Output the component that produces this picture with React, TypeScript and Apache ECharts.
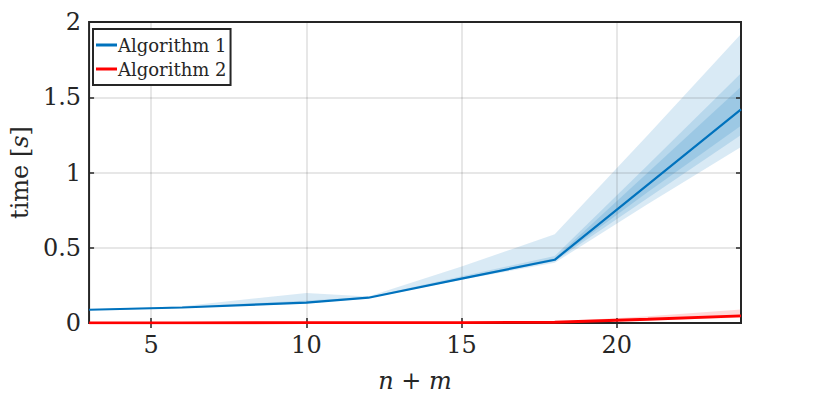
import React, { useEffect, useRef } from "react";
import * as echarts from "echarts";

const xValues = [3, 6, 10, 12, 15, 18, 21, 24];
const algo1 = [0.088, 0.103, 0.135, 0.168, 0.295, 0.42, 0.92, 1.42];
const algo1OuterLo = [0.085, 0.099, 0.13, 0.164, 0.288, 0.4, 0.79, 1.17];
const algo1OuterHi = [0.092, 0.112, 0.2, 0.176, 0.375, 0.59, 1.25, 1.92];
const algo1MidLo = [0.086, 0.101, 0.132, 0.166, 0.291, 0.41, 0.83, 1.25];
const algo1MidHi = [0.09, 0.106, 0.15, 0.172, 0.31, 0.445, 1.05, 1.66];
const algo1InLo = [0.087, 0.102, 0.133, 0.167, 0.293, 0.415, 0.87, 1.31];
const algo1InHi = [0.089, 0.104, 0.14, 0.17, 0.3, 0.43, 1.0, 1.57];

const algo2 = [0.001, 0.001, 0.002, 0.002, 0.003, 0.005, 0.025, 0.048];
const algo2Lo = [0.0005, 0.0005, 0.001, 0.001, 0.002, 0.004, 0.018, 0.035];
const algo2Hi = [0.002, 0.002, 0.003, 0.003, 0.004, 0.008, 0.045, 0.09];

const xTicks = [5, 10, 15, 20];
const yTicks = [0, 0.5, 1, 1.5, 2];

const BLUE = "#0072BD";
const RED = "#FF0000";
const INK = "#262626";
const GRID = "rgba(38,38,38,0.15)";
const FONT = "DejaVu Serif";

function pairs(ys: number[]) {
  return xValues.map((x, i) => [x, ys[i]]);
}

function band(id: string, lo: number[], hi: number[], color: string) {
  return {
    name: id,
    type: "custom",
    silent: true,
    z: -1,
    data: xValues.map((x, i) => [x, lo[i], hi[i]]),
    encode: { x: 0, y: [1, 2] },
    renderItem: (params: any, api: any) => {
      if (params.dataIndex !== 0) return null;
      const top = xValues.map((x, i) => api.coord([x, hi[i]]));
      const bottom = xValues.map((x, i) => api.coord([x, lo[i]])).reverse();
      return {
        type: "polygon",
        shape: { points: [...top, ...bottom] },
        style: { fill: color, opacity: 0.15, stroke: null },
      };
    },
  };
}

export default function App() {
  const ref = useRef<HTMLDivElement>(null);
  useEffect(() => {
    if (!ref.current) return;
    const chart = echarts.init(ref.current, null, { renderer: "svg" });
    const axisCommon = {
      axisLine: { show: false },
      axisTick: { show: true, inside: true, length: 5, lineStyle: { color: INK, width: 1.5 } },
    };
    chart.setOption({
      animation: false,
      backgroundColor: "#ffffff",
      grid: {
        left: 86,
        right: 89,
        top: 22,
        bottom: 78,
        show: true,
        borderColor: INK,
        borderWidth: 2,
        backgroundColor: "transparent",
      },
      legend: {
        data: ["Algorithm 1", "Algorithm 2"],
        orient: "vertical",
        left: 93,
        top: 29,
        icon: "rect",
        itemWidth: 21,
        itemHeight: 3,
        itemGap: 2,
        padding: [5, 4, 5, 3],
        borderColor: INK,
        borderWidth: 2,
        borderRadius: 0,
        backgroundColor: "#ffffff",
        textStyle: { fontFamily: FONT, fontSize: 18, color: INK, lineHeight: 22, padding: [0, 0, 0, -4] },
      },
      xAxis: [
        {
          type: "value",
          min: 3,
          max: 24,
          ...axisCommon,
          axisTick: { ...axisCommon.axisTick, customValues: xTicks },
          axisLabel: {
            customValues: xTicks,
            fontFamily: FONT,
            fontSize: 24,
            color: INK,
            margin: 10,
          },
          splitLine: { show: true, customValues: xTicks, lineStyle: { color: GRID, width: 1.5 } },
          name: "{i|n}{r| + }{i|m}",
          nameLocation: "middle",
          nameGap: 46,
          nameTextStyle: {
            rich: {
              i: { fontFamily: FONT, fontStyle: "italic", fontSize: 24, color: INK },
              r: { fontFamily: FONT, fontSize: 24, color: INK },
            },
          },
        },
        {
          type: "value",
          min: 3,
          max: 24,
          position: "top",
          ...axisCommon,
          axisTick: { ...axisCommon.axisTick, customValues: xTicks },
          axisLabel: { show: false, customValues: xTicks },
          splitLine: { show: false },
        },
      ],
      yAxis: [
        {
          type: "value",
          min: 0,
          max: 2,
          interval: 0.5,
          ...axisCommon,
          axisLabel: {
            fontFamily: FONT,
            fontSize: 24,
            color: INK,
            margin: 8,
            formatter: (v: number) => (yTicks.includes(v) ? String(v) : ""),
          },
          splitLine: { show: true, lineStyle: { color: GRID, width: 1.5 } },
          name: "{r|time [}{i|s}{r|]}",
          nameLocation: "middle",
          nameRotate: 90,
          nameGap: 48,
          nameTextStyle: {
            rich: {
              i: { fontFamily: FONT, fontStyle: "italic", fontSize: 24, color: INK },
              r: { fontFamily: FONT, fontSize: 24, color: INK },
            },
          },
        },
        {
          type: "value",
          min: 0,
          max: 2,
          interval: 0.5,
          position: "right",
          ...axisCommon,
          axisLabel: { show: false },
          splitLine: { show: false },
        },
      ],
      series: [
        band("b1o", algo1OuterLo, algo1OuterHi, BLUE),
        band("b1m", algo1MidLo, algo1MidHi, BLUE),
        band("b1i", algo1InLo, algo1InHi, BLUE),
        band("b2", algo2Lo, algo2Hi, RED),
        {
          name: "Algorithm 1",
          type: "line",
          data: pairs(algo1),
          symbol: "none",
          itemStyle: { color: BLUE },
          lineStyle: { color: BLUE, width: 2.2 },
          z: 3,
        },
        {
          name: "Algorithm 2",
          type: "line",
          data: pairs(algo2),
          symbol: "none",
          itemStyle: { color: RED },
          lineStyle: { color: RED, width: 2.8 },
          z: 4,
        },
      ],
    });
    return () => chart.dispose();
  }, []);
  return <div ref={ref} style={{ width: 830, height: 401, position: "absolute", left: 0, top: 0 }} />;
}
